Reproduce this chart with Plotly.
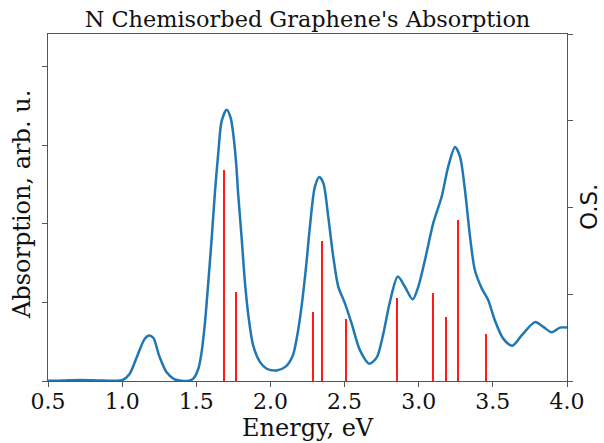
import plotly.graph_objects as go

# Absorption spectrum (energy in eV, absorption in arb. u.)
energy = [0.50, 0.60, 0.72, 0.85, 0.95, 1.00, 1.05, 1.10, 1.15, 1.18, 1.21, 1.25, 1.30, 1.35, 1.40,
          1.45, 1.48, 1.514, 1.536, 1.559, 1.581, 1.604, 1.626, 1.649, 1.671, 1.705, 1.732, 1.75,
          1.768, 1.783, 1.806, 1.828, 1.851, 1.884, 1.93, 1.975, 2.042, 2.10, 2.15, 2.18, 2.21,
          2.24, 2.267, 2.30, 2.330, 2.357, 2.39, 2.424, 2.458, 2.503, 2.548, 2.604, 2.667, 2.717,
          2.761, 2.806, 2.859, 2.907, 2.959, 2.997, 3.042, 3.098, 3.155, 3.199, 3.245, 3.278, 3.312,
          3.346, 3.379, 3.425, 3.469, 3.514, 3.570, 3.631, 3.694, 3.784, 3.840, 3.897, 3.953, 4.00]
absorption = [0.002, 0.006, 0.014, 0.006, 0.003, 0.01, 0.09, 0.31, 0.53, 0.58, 0.55, 0.32, 0.11, 0.025, 0.004,
              0.004, 0.03, 0.156, 0.37, 0.75, 1.26, 1.82, 2.41, 2.92, 3.31, 3.455, 3.35, 3.135,
              2.79, 2.37, 1.82, 1.26, 0.84, 0.45, 0.24, 0.156, 0.134, 0.18, 0.32, 0.57, 0.95,
              1.45, 1.98, 2.475, 2.60, 2.52, 2.09, 1.58, 1.20, 0.986, 0.73, 0.39, 0.22, 0.30,
              0.60, 1.01, 1.33, 1.20, 1.04, 1.20, 1.54, 2.01, 2.35, 2.73, 2.98, 2.86, 2.43,
              1.84, 1.41, 1.18, 1.03, 0.77, 0.54, 0.45, 0.58, 0.75, 0.69, 0.62, 0.68, 0.68]

# Oscillator strengths (sticks)
os_energy = [1.688, 1.769, 2.289, 2.349, 2.513, 2.856, 3.098, 3.184, 3.267, 3.454]
os_strength = [2.43, 1.03, 0.79, 1.61, 0.72, 0.96, 1.01, 0.74, 1.86, 0.54]

x_ticks = [0.5, 1.0, 1.5, 2.0, 2.5, 3.0, 3.5, 4.0]
x_tick_labels = ["0.5", "1.0", "1.5", "2.0", "2.5", "3.0", "3.5", "4.0"]

serif = "DejaVu Serif"
axis_col = "#555555"
txt_col = "#111111"

W, H = 604, 443
L, R, T, B = 48, 37, 34, 62

fig = go.Figure()
fig.add_trace(go.Bar(x=os_energy, y=os_strength, width=0.009,
                     marker=dict(color="#ff1a1a", line=dict(width=0)),
                     yaxis="y2", showlegend=False))
fig.add_trace(go.Scatter(x=energy, y=absorption, mode="lines",
                         line=dict(color="#1f77b4", width=2.5, shape="spline", smoothing=0.8),
                         showlegend=False))

fig.update_layout(
    width=W, height=H,
    margin=dict(l=L, r=R, t=T, b=B, autoexpand=False),
    paper_bgcolor="white", plot_bgcolor="white",
    title=dict(text="N Chemisorbed Graphene's Absorption", x=0.5, xanchor="center", xref="paper",
               y=1 - 19 / H, yanchor="middle", font=dict(family=serif, size=22.4, color=txt_col)),
    xaxis=dict(range=[0.5, 4.0], tickvals=x_ticks, ticktext=x_tick_labels, ticks="outside", ticklen=5,
               tickcolor=axis_col, showline=True, linecolor=axis_col, linewidth=1, mirror=True,
               showgrid=False, zeroline=False, automargin=False, ticklabelstandoff=-4,
               tickfont=dict(family=serif, size=22, color=txt_col)),
    yaxis=dict(range=[0, 4.42], tickvals=[0, 1, 2, 3, 4], showticklabels=False, ticks="outside", ticklen=5,
               tickcolor=axis_col, showline=True, linecolor=axis_col, linewidth=1,
               showgrid=False, zeroline=False, automargin=False),
    yaxis2=dict(range=[0, 4.0], tickvals=[0, 1, 2, 3, 4], showticklabels=False, ticks="outside", ticklen=5,
                tickcolor=axis_col, showline=True, linecolor=axis_col, linewidth=1,
                overlaying="y", side="right", showgrid=False, zeroline=False, automargin=False),
    bargap=0,
)

pw, ph = W - L - R, H - T - B
# axis titles as annotations (positions in paper coordinates)
fig.add_annotation(text="Energy, eV", xref="paper", yref="paper", x=0.5, y=-(428 - (H - B)) / ph,
                   xanchor="center", yanchor="middle", showarrow=False,
                   font=dict(family=serif, size=24, color=txt_col))
fig.add_annotation(text="Absorption, arb. u.", xref="paper", yref="paper", x=-(L - 22) / pw,
                   y=1 - (205 - T) / ph, xanchor="center", yanchor="middle", textangle=-90,
                   showarrow=False, font=dict(family=serif, size=24, color=txt_col))
fig.add_annotation(text="O.S.", xref="paper", yref="paper", x=1 + (589 - (W - R)) / pw,
                   y=1 - (207 - T) / ph, xanchor="center", yanchor="middle", textangle=-90,
                   showarrow=False, font=dict(family="DejaVu Sans", size=23, color=txt_col))

fig.write_html("out.html", config={"displayModeBar": False},
               post_script="document.body.style.margin='0';document.body.style.padding='0';")
